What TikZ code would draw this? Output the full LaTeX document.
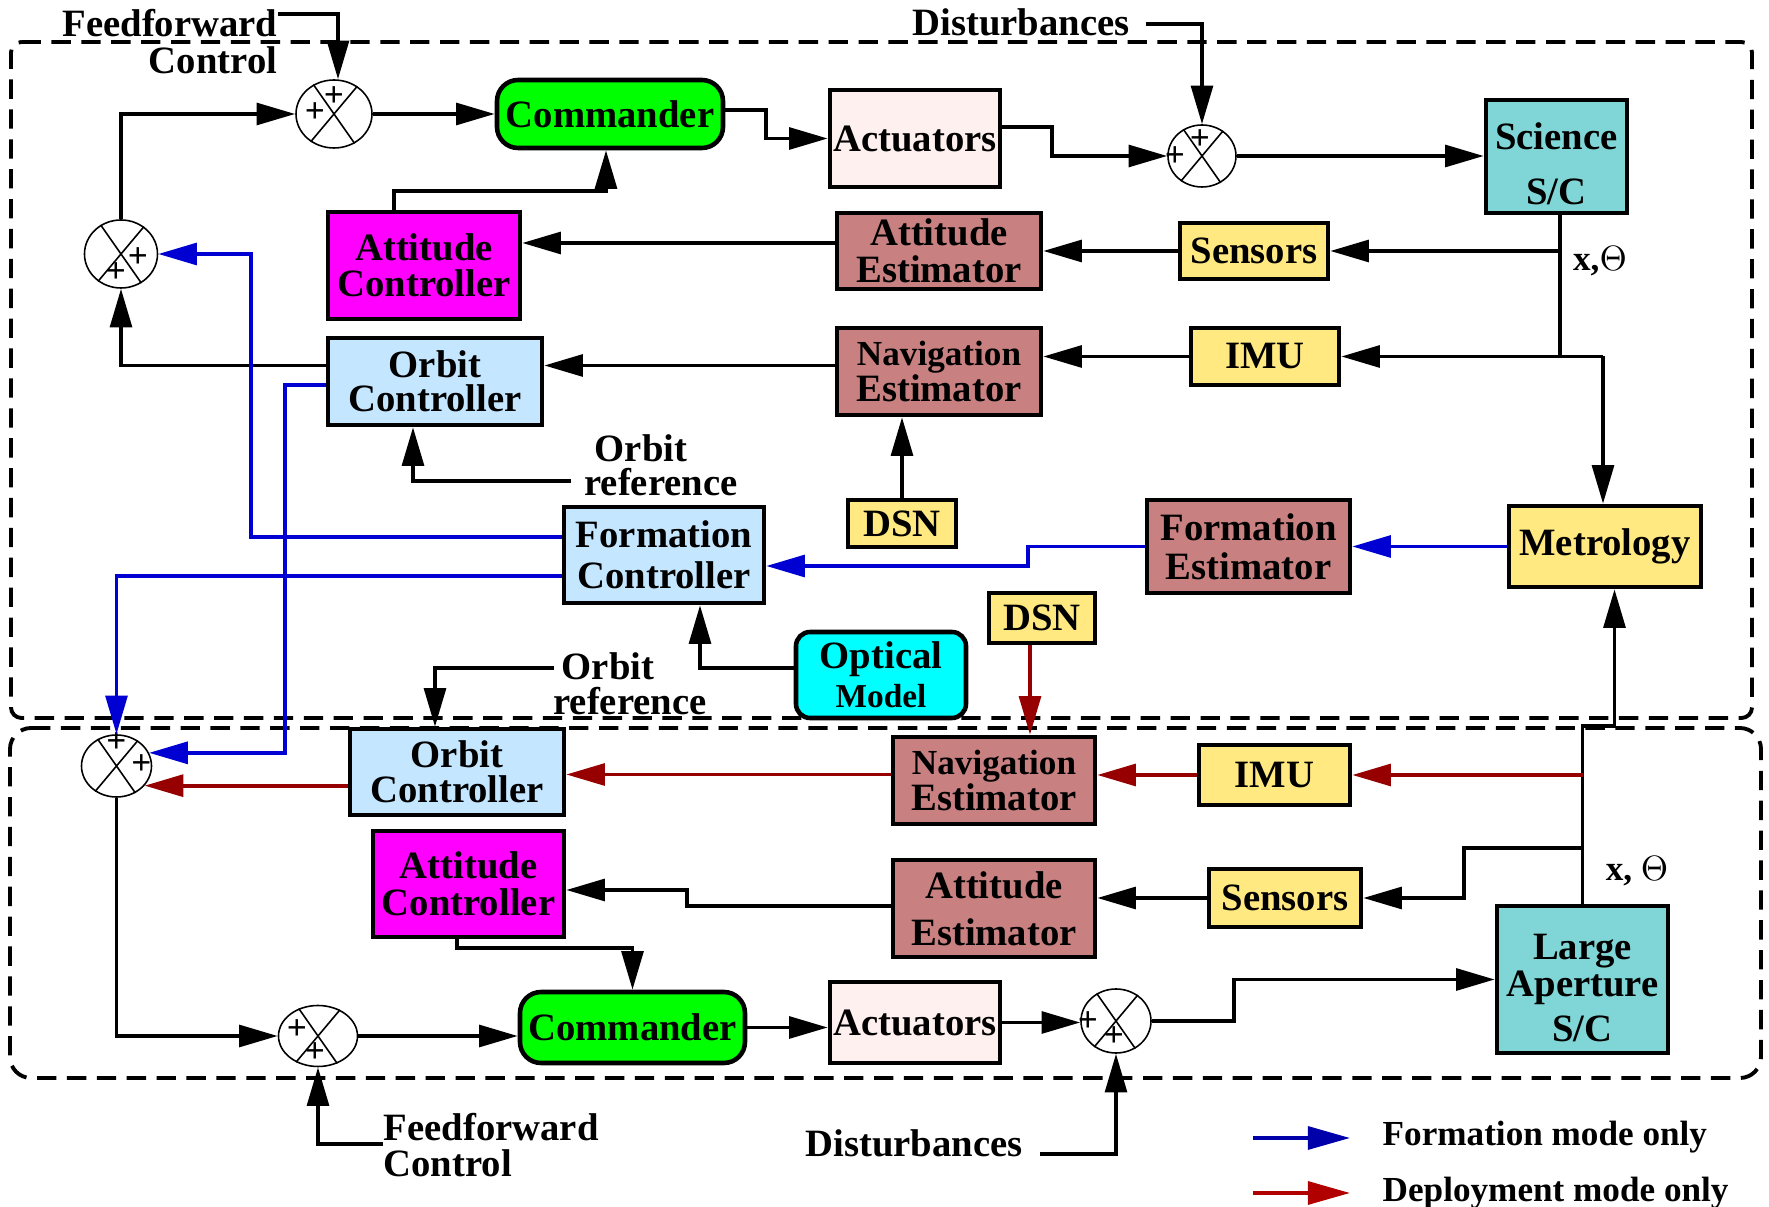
\documentclass[tikz,border=0pt]{standalone}
\usepackage{fontspec}
\setmainfont{Liberation Serif}
\usetikzlibrary{arrows.meta,shapes.misc,shapes.geometric,calc}
\definecolor{cgreen}{RGB}{0,255,0}
\definecolor{cmag}{RGB}{255,0,255}
\definecolor{clblue}{RGB}{196,230,255}
\definecolor{cpink}{RGB}{255,240,240}
\definecolor{cest}{RGB}{200,128,128}
\definecolor{cyel}{RGB}{255,233,128}
\definecolor{cteal}{RGB}{128,214,214}
\definecolor{ccyan}{RGB}{0,255,255}
\definecolor{lblue}{RGB}{0,0,210}
\definecolor{lred}{RGB}{150,0,0}
\definecolor{legblue}{RGB}{0,0,170}
\definecolor{legred}{RGB}{176,0,0}
\begin{document}
\begin{tikzpicture}[x=0.01cm,y=-0.01cm,
  every node/.style={font=\bfseries\fontsize{11}{11}\selectfont},
  sz/.style 2 args={minimum width=#1*0.01cm,minimum height=#2*0.01cm},
  blk/.style={draw,line width=1.3pt,inner sep=0pt,align=center},
  cmdbox/.style={rounded corners=6pt},
  sumn/.style={draw,line width=0.45pt,ellipse,inner sep=0pt},
  sgn/.style={font=\bfseries\fontsize{10}{10}\selectfont,inner sep=0pt},
  lbl/.style={inner sep=0pt,align=left},
  arr/.style={-{Triangle[length=11pt,width=6.2pt]},line width=1.05pt},
  barr/.style={arr,draw=lblue},
  rarr/.style={arr,draw=lred},
  legarr/.style={-{Triangle[length=12pt,width=6.5pt]},line width=1.1pt},
  dashbox/.style={line width=1.1pt,dash pattern=on 5.5pt off 3pt}
]
\useasboundingbox (0,0) rectangle (1769,1207);

% dashed enclosures
\draw[dashbox,rounded corners=3pt] (11,42) -- (1752,42) -- (1752,718) -- (11,718) -- cycle;
\draw[dashbox,rounded corners=6pt] (10,728) -- (1761,728) -- (1761,1078) -- (10,1078) -- cycle;

% ---------- top blocks ----------
\node[blk,cmdbox,fill=cgreen,sz={226}{68}] (cmd1) at (610,114) {Commander};
\node[blk,fill=cpink,sz={170}{97}] (act1) at (915,138.5) {Actuators};
\node[blk,fill=cteal,sz={141}{113}] (sci) at (1556.5,156.5) {\rule{0pt}{12pt}Science\\[4.6pt]S/C};
\node[blk,fill=cmag,sz={192}{107}] (ac1) at (424,265.5) {Attitude\\[-0.8pt]Controller};
\node[blk,fill=cest,sz={204}{76}] (ae1) at (939,251) {Attitude\\[-0.5pt]Estimator};
\node[blk,fill=cyel,sz={148}{56}] (sens1) at (1254,251) {Sensors};
\node[blk,fill=clblue,sz={214}{87}] (oc1) at (435,381.5) {Orbit\\[-1.2pt]Controller};
\node[blk,fill=cest,sz={204}{87}] (ne1) at (939,371.5) {{\fontsize{10}{10}\selectfont Navigation}\\[-0.5pt]Estimator};
\node[blk,fill=cyel,sz={148}{57}] (imu1) at (1265,356.5) {IMU};
\node[blk,fill=cyel,sz={108}{47}] (dsn1) at (902,523.5) {DSN};
\node[blk,fill=clblue,sz={200}{96}] (fc) at (664,555) {Formation\\[0.6pt]Controller};
\node[blk,fill=cest,sz={203}{93}] (fe) at (1248.5,546.5) {Formation\\Estimator};
\node[blk,fill=cyel,sz={192}{81}] (met) at (1605,546.5) {Metrology};
\node[blk,fill=cyel,sz={106}{50}] (dsn2) at (1042,618) {DSN};
\node[blk,fill=ccyan,rounded corners=4pt,sz={170}{86}] (om) at (881,675) {Optical\\{\fontsize{9.5}{9.5}\selectfont Model}};

% ---------- bottom blocks ----------
\node[blk,fill=clblue,sz={214}{86}] (oc2) at (457,772) {Orbit\\[-1.2pt]Controller};
\node[blk,fill=cest,sz={202}{87}] (ne2) at (994,780.5) {{\fontsize{10}{10}\selectfont Navigation}\\[-0.5pt]Estimator};
\node[blk,fill=cyel,sz={151}{60}] (imu2) at (1274.5,775) {IMU};
\node[blk,fill=cmag,sz={191}{106}] (ac2) at (468.5,884) {Attitude\\[-0.5pt]Controller};
\node[blk,fill=cest,sz={202}{97}] (ae2) at (994,908.5) {Attitude\\[2.4pt]Estimator};
\node[blk,fill=cyel,sz={152}{58}] (sens2) at (1285,898) {Sensors};
\node[blk,fill=cteal,sz={171}{147}] (la) at (1582.5,979.5) {\rule{0pt}{12pt}Large\\[-0.5pt]Aperture\\[2pt]S/C};
\node[blk,cmdbox,fill=cgreen,sz={225}{71}] (cmd2) at (632.5,1027.5) {Commander};
\node[blk,fill=cpink,sz={170}{81}] (act2) at (915,1022.5) {Actuators};

% ---------- summing junctions ----------
\node[sumn,sz={76}{68}] (sum1) at (334,114) {};
\node[sumn,sz={73}{68}] (sum2) at (121,254) {};
\node[sumn,sz={70}{62}] (sum3) at (116.5,766) {};
\node[sumn,sz={68}{62}] (sum4) at (1202,156) {};
\node[sumn,sz={79}{61}] (sum5) at (318,1036) {};
\node[sumn,sz={70}{64}] (sum6) at (1116,1021) {};
\foreach \s in {sum1,sum2,sum3,sum4,sum5,sum6}
  \draw[line width=0.45pt] (\s.125) -- (\s.-55) (\s.50) -- (\s.-130);
\node[sgn] (p1a) at ($(sum1)+(0,-17)$) {+};
\node[sgn] (p1b) at ($(sum1)+(-19,-1)$) {+};
\node[sgn] (p2a) at ($(sum2)+(17,4)$) {+};
\node[sgn] (p2b) at ($(sum2)+(-5,19)$) {+};
\node[sgn] (p3a) at ($(sum3)+(0,-23)$) {+};
\node[sgn] (p3b) at ($(sum3)+(25,-1)$) {+};
\node[sgn] (p4a) at ($(sum4)+(-2,-16)$) {+};
\node[sgn] (p4b) at ($(sum4)+(-27,1)$) {+};
\node[sgn] (p5a) at ($(sum5)+(-21,-6)$) {+};
\node[sgn] (p5b) at ($(sum5)+(-3,17)$) {+};
\node[sgn] (p6a) at ($(sum6)+(-28,1)$) {+};
\node[sgn] (p6b) at ($(sum6)+(-2,16)$) {+};

% ---------- text labels ----------
\node[lbl] (ff1) at (170,23) {Feedforward};
\node[lbl] (ctl1) at (213,60) {Control};
\node[lbl] (dist1) at (1021,22) {Disturbances};
\node[lbl] (orb1a) at (641,448) {Orbit};
\node[lbl] (orb1b) at (661,482) {reference};
\node[lbl] (orb2a) at (608,666) {Orbit};
\node[lbl] (orb2b) at (630,701) {reference};
\node[lbl,anchor=west] (ff2a) at (383,1127) {Feedforward};
\node[lbl,anchor=west] (ff2b) at (383,1163) {Control};
\node[lbl] (dist2) at (914,1143) {Disturbances};
\node[lbl,font=\bfseries\fontsize{10}{10}\selectfont] (xt1) at (1600,261) {x,$\Theta$};
\node[lbl,font=\bfseries\fontsize{10}{10}\selectfont] (xt2) at (1637,871) {x, $\Theta$};
\node[lbl,anchor=west,font=\bfseries\fontsize{10}{10}\selectfont] (leg1) at (1382,1137) {Formation mode only};
\node[lbl,anchor=west,font=\bfseries\fontsize{10}{10}\selectfont] (leg2) at (1382,1193) {Deployment mode only};

% ---------- top connectors ----------
\coordinate (ffs1) at (278,14);
\draw[arr] (ffs1) -| ($(sum1.north)+(4,0)$);
\draw[arr] (sum2.north) |- (sum1.west);
\draw[arr] (sum1.east) -- (cmd1.west);
\draw[arr] ($(cmd1.east)+(0,-4)$) -- ++(41,0) |- (act1.west);
\draw[arr] ($(ac1.north)+(-30,0)$) -- ++(0,-19) -| ($(cmd1.south)+(-4,0)$);
\draw[arr] ($(act1.east)+(0,-11.5)$) -- ++(50,0) |- (sum4.west);
\coordinate (ds1) at (1146,24);
\draw[arr] (ds1) -| (sum4.north);
\draw[arr] (sum4.east) -- (sum4.east -| sci.west);
\coordinate (scb) at ($(sci.south)+(3.5,0)$);
\coordinate (mtx) at ($(met.north)+(-2,0)$);
\draw[line width=1.05pt] (scb) -- (scb |- imu1.east);
\draw[arr] (scb |- sens1.east) -- (sens1.east);
\draw[arr] (mtx |- imu1.east) -- (imu1.east);
\draw[arr] (mtx |- imu1.east) -- (mtx);
\draw[arr] (sens1.west) -- (sens1.west -| ae1.east);
\draw[arr] ($(ae1.west)+(0,-8)$) coordinate (t1) -- (t1 -| ac1.east);
\draw[arr] (imu1.west) -- (imu1.west -| ne1.east);
\draw[arr] ($(ne1.west)+(0,-6)$) coordinate (t2) -- (t2 -| oc1.east);
\draw[arr] ($(oc1.west)+(0,-16)$) -| (sum2.south);
\coordinate (or1) at (571,481);
\draw[arr] (or1) -| ($(oc1.south)+(-22,0)$);
\draw[arr] (dsn1.north) -- (dsn1.north |- ne1.south);
\draw[arr] ($(om.west)+(0,-7)$) -| ($(fc.south)+(36,0)$);
\draw[barr] (met.west) -- (fe.east);
\draw[barr] (fe.west) -- ++(-117,0) |- ($(fc.east)+(0,11)$);
\draw[barr] ($(fc.west)+(0,-18)$) -- ++(-311,0) |- (sum2.east);
\draw[barr] ($(fc.west)+(0,21)$) -| (sum3.north);
\draw[barr] ($(oc1.west)+(0,3.5)$) -- ++(-41,0) |- (sum3.22);

% ---------- bottom connectors ----------
\draw[rarr] (sum3.-35 -| oc2.west) -- (sum3.-35);
\draw[arr] (sum3.south) |- (sum5.west);
\coordinate (or2) at (554,668);
\draw[arr] (or2) -| ($(oc2.north)+(-22,0)$);
\draw[rarr] ($(dsn2.south)+(-12,0)$) coordinate (t3) -- (t3 |- ne2.north);
\draw[arr] (la.north) -- ++(0,-178) -- ++(32,0) coordinate (t4) -- (t4 |- met.south);
\draw[rarr] (la.north |- imu2.east) -- (imu2.east);
\draw[rarr] (imu2.west) -- (imu2.west -| ne2.east);
\draw[rarr] ($(ne2.west)+(0,-6)$) coordinate (t5) -- (t5 -| oc2.east);
\draw[arr] ($(la.north)+(0,-56)$) -- ++(-118.5,0) |- (sens2.east);
\draw[arr] (sens2.west) -- (sens2.west -| ae2.east);
\draw[arr] ($(ae2.west)+(0,-2.5)$) -- ++(-204,0) |- ($(ac2.east)+(0,6)$);
\draw[arr] ($(ac2.south)+(-11.5,0)$) -- ++(0,9) -| (cmd2.north);
\draw[arr] (sum5.east) -- (sum5.east -| cmd2.west);
\draw[arr] (cmd2.east) -- (cmd2.east -| act2.west);
\draw[arr] (act2.east) -- (act2.east -| sum6.west);
\draw[arr] (sum6.east) -- ++(82,0) |- (la.west);
\coordinate (ff2c) at (383,1144);
\draw[arr] (ff2c) -| (sum5.south);
\coordinate (ds2) at (1040,1154);
\draw[arr] (ds2) -| (sum6.south);

% ---------- legend ----------
\coordinate (lb1) at (1253,1138);
\coordinate (lb2) at (1350,1138);
\coordinate (lr1) at (1253,1193);
\coordinate (lr2) at (1350,1193);
\draw[legarr,draw=legblue] (lb1) -- (lb2);
\draw[legarr,draw=legred] (lr1) -- (lr2);
\end{tikzpicture}
\end{document}
